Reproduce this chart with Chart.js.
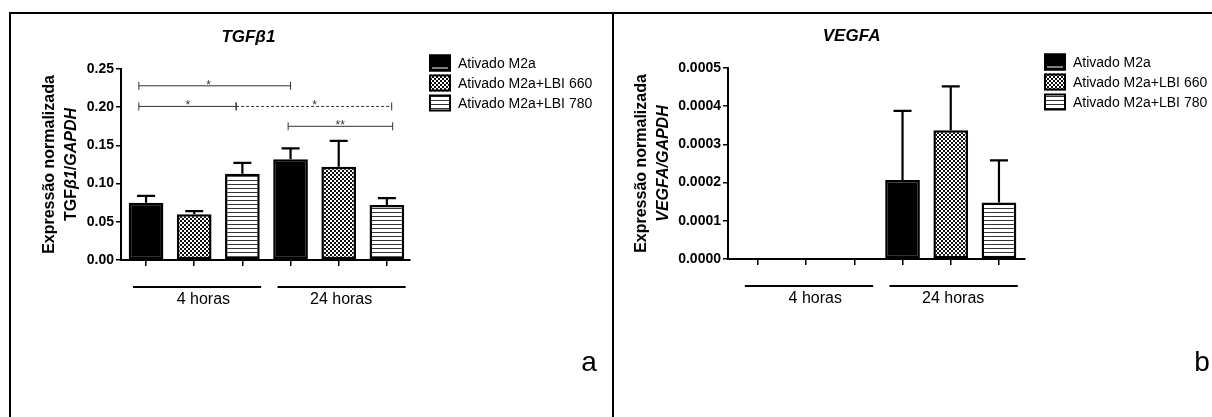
<!DOCTYPE html>
<html>
<head>
<meta charset="utf-8">
<script src="https://cdn.jsdelivr.net/npm/chart.js@4.4.1/dist/chart.umd.min.js"></script>
<style>
  body { margin: 0; background: #fff; }
  #wrap { position: relative; width: 1212px; height: 417px; overflow: hidden; }
  #wrap canvas { position: absolute; top: 0; }
  .rule { position: absolute; background: #000; }
</style>
</head>
<body>
<div id="wrap">
  <canvas id="tgf" width="612" height="417" style="left:0"></canvas>
  <canvas id="vegf" width="599" height="417" style="left:613px"></canvas>
  <div class="rule" style="left:9px;top:12px;width:1203px;height:2px"></div>
  <div class="rule" style="left:9px;top:12px;width:2px;height:405px"></div>
  <div class="rule" style="left:612px;top:12px;width:2px;height:405px"></div>
</div>
<script>
const groups = ['4 horas', '24 horas'];
const series = ['Ativado M2a', 'Ativado M2a+LBI 660', 'Ativado M2a+LBI 780'];

// TGFb1 normalised to GAPDH: mean and SEM, one value per group
const tgfM2a = [0.075, 0.132];
const tgfM2aSem = [0.009, 0.014];
const tgfLbi660 = [0.060, 0.122];
const tgfLbi660Sem = [0.004, 0.034];
const tgfLbi780 = [0.113, 0.072];
const tgfLbi780Sem = [0.014, 0.009];
const tgfTicks = [0, 0.05, 0.10, 0.15, 0.20, 0.25];

// VEGFA normalised to GAPDH (not detected at 4 h)
const vegfM2a = [0, 0.000207];
const vegfM2aSem = [0, 0.000181];
const vegfLbi660 = [0, 0.000337];
const vegfLbi660Sem = [0, 0.000115];
const vegfLbi780 = [0, 0.000148];
const vegfLbi780Sem = [0, 0.000110];
const vegfTicks = [0, 0.0001, 0.0002, 0.0003, 0.0004, 0.0005];

// significance brackets, x in bar slots (0..5)
const tgfSig = [
  { from: -0.15, to: 3, y: 0.228, label: '*', at: 1.3 },
  { from: -0.15, to: 1.87, y: 0.201, label: '*', at: 0.87 },
  { from: 1.87, to: 5.1, y: 0.201, label: '*', at: 3.5, dashed: true },
  { from: 2.95, to: 5.12, y: 0.175, label: '**', at: 4.03 }
];

const FONT = '"Liberation Sans", Arial, Helvetica, sans-serif';
const slots = [0, 1, 2, 3, 4, 5];

function makeChecker() {
  const c = document.createElement('canvas');
  c.width = 4; c.height = 4;
  const g = c.getContext('2d');
  g.fillStyle = '#fff';
  g.fillRect(0, 0, 4, 4);
  g.fillStyle = '#111';
  g.fillRect(0, 0, 2, 2);
  g.fillRect(2, 2, 2, 2);
  return g.createPattern(c, 'repeat');
}

function makeStripes() {
  const c = document.createElement('canvas');
  c.width = 4; c.height = 4;
  const g = c.getContext('2d');
  g.fillStyle = '#fff';
  g.fillRect(0, 0, 4, 4);
  g.fillStyle = '#333';
  g.fillRect(0, 0, 4, 1);
  return g.createPattern(c, 'repeat');
}

const fills = ['#000', makeChecker(), makeStripes()];

function makeDatasets(values, sems) {
  return series.map((name, s) => ({
    label: name,
    data: groups.map((g, gi) => ({ x: gi * 3 + s, y: values[s][gi] })),
    sem: sems[s],
    backgroundColor: fills[s],
    borderColor: '#000',
    borderWidth: 2.5,
    borderSkipped: false
  }));
}

function textSegments(ctx, segs, size) {
  let w = 0;
  segs.forEach(s => {
    ctx.font = (s.italic ? 'italic ' : '') + 'bold ' + size + 'px ' + FONT;
    w += ctx.measureText(s.t).width;
  });
  let x = -w / 2;
  segs.forEach(s => {
    ctx.font = (s.italic ? 'italic ' : '') + 'bold ' + size + 'px ' + FONT;
    ctx.fillText(s.t, x, 0);
    x += ctx.measureText(s.t).width;
  });
}

// title, axis title, legend, group labels, error bars and brackets
function decor(cfg) {
  return {
    id: 'decor',
    afterDatasetsDraw(chart) {
      const { ctx, scales: { y } } = chart;
      ctx.save();
      ctx.strokeStyle = '#000';
      ctx.lineWidth = 2.2;
      chart.data.datasets.forEach((ds, di) => {
        chart.getDatasetMeta(di).data.forEach((bar, i) => {
          const sem = ds.sem[i];
          if (!sem) return;
          const top = y.getPixelForValue(ds.data[i].y + sem);
          ctx.beginPath();
          ctx.moveTo(bar.x, bar.y);
          ctx.lineTo(bar.x, top);
          ctx.moveTo(bar.x - 9, top);
          ctx.lineTo(bar.x + 9, top);
          ctx.stroke();
        });
      });
      ctx.restore();
    },
    afterDraw(chart) {
      const { ctx, chartArea: area, scales: { x, y } } = chart;
      ctx.save();
      ctx.fillStyle = '#000';

      // left edge of the y tick labels
      ctx.font = 'bold 14px ' + FONT;
      const labW = Math.max(...y.ticks.map(t => ctx.measureText(t.label).width));
      const labLeft = area.left - 7 - labW;

      // chart title
      ctx.font = 'italic bold 17px ' + FONT;
      ctx.textAlign = 'center';
      ctx.textBaseline = 'middle';
      ctx.fillText(cfg.title, (labLeft + area.right) / 2, area.top - 32);

      // y axis title, two lines
      const midY = (area.top + area.bottom) / 2;
      ctx.save();
      ctx.translate(labLeft - 37, midY);
      ctx.rotate(-Math.PI / 2);
      ctx.font = 'bold 16px ' + FONT;
      ctx.fillText('Expressão normalizada', 0, 0);
      ctx.restore();
      ctx.save();
      ctx.translate(labLeft - 15, midY);
      ctx.rotate(-Math.PI / 2);
      ctx.textAlign = 'left';
      textSegments(ctx, cfg.yTitle, 16);
      ctx.restore();

      // legend
      chart.data.datasets.forEach((ds, i) => {
        const bx = area.right + 19;
        const cy = area.top - 6 + i * 20;
        const by = cy - 8.5;
        ctx.fillStyle = ds.backgroundColor;
        ctx.fillRect(bx, by, 22, 17);
        ctx.strokeStyle = '#000';
        ctx.lineWidth = 2;
        ctx.strokeRect(bx + 1, by + 1, 20, 15);
        if (i === 0) {
          ctx.strokeStyle = '#fff';
          ctx.lineWidth = 1;
          ctx.beginPath();
          ctx.moveTo(bx + 3, by + 13.5);
          ctx.lineTo(bx + 19, by + 13.5);
          ctx.stroke();
        }
        ctx.fillStyle = '#000';
        ctx.font = '14px ' + FONT;
        ctx.textAlign = 'left';
        ctx.fillText(ds.label, bx + 29, cy + 1);
      });

      // group lines and labels under the axis
      const labelAt = [1.19, 1.05];
      groups.forEach((g, gi) => {
        ctx.strokeStyle = '#000';
        ctx.lineWidth = 2;
        ctx.beginPath();
        ctx.moveTo(x.getPixelForValue(gi * 3 - 0.27), area.bottom + 27);
        ctx.lineTo(x.getPixelForValue(gi * 3 + 2.39), area.bottom + 27);
        ctx.stroke();
        ctx.font = '16px ' + FONT;
        ctx.textAlign = 'center';
        ctx.fillText(g, x.getPixelForValue(gi * 3 + labelAt[gi]), area.bottom + 40);
      });

      // significance brackets
      (cfg.sig || []).forEach(b => {
        const x1 = x.getPixelForValue(b.from);
        const x2 = x.getPixelForValue(b.to);
        const yy = y.getPixelForValue(b.y);
        ctx.strokeStyle = '#333';
        ctx.lineWidth = 1;
        ctx.setLineDash(b.dashed ? [3, 2] : []);
        ctx.beginPath();
        ctx.moveTo(x1, yy);
        ctx.lineTo(x2, yy);
        ctx.stroke();
        ctx.setLineDash([]);
        ctx.beginPath();
        ctx.moveTo(x1, yy - 4); ctx.lineTo(x1, yy + 4);
        ctx.moveTo(x2, yy - 4); ctx.lineTo(x2, yy + 4);
        ctx.stroke();
        ctx.fillStyle = '#333';
        ctx.font = '12px ' + FONT;
        ctx.textAlign = 'center';
        ctx.textBaseline = 'alphabetic';
        ctx.fillText(b.label, x.getPixelForValue(b.at), yy + 3);
      });

      // panel letter
      ctx.fillStyle = '#000';
      ctx.font = '28px ' + FONT;
      ctx.textAlign = 'center';
      ctx.textBaseline = 'alphabetic';
      ctx.fillText(cfg.panel, 589, 371);
      ctx.restore();
    }
  };
}

function makeChart(id, opts) {
  return new Chart(document.getElementById(id), {
    type: 'bar',
    data: { datasets: opts.datasets },
    options: {
      responsive: false,
      animation: false,
      grouped: false,
      layout: { padding: opts.padding },
      plugins: { legend: { display: false }, title: { display: false }, tooltip: { enabled: false } },
      scales: {
        x: {
          type: 'linear',
          offset: false,
          min: opts.xMin,
          max: opts.xMax,
          afterBuildTicks: s => { s.ticks = slots.map(v => ({ value: v })); },
          afterFit: s => { s.height = 40; },
          ticks: { display: false },
          grid: { offset: false, drawOnChartArea: false, drawTicks: true, tickLength: 6, color: '#000', lineWidth: 1.5 },
          border: { color: '#000', width: 2 }
        },
        y: {
          min: 0,
          max: opts.ticks[opts.ticks.length - 1],
          afterBuildTicks: s => { s.ticks = opts.ticks.map(v => ({ value: v })); },
          afterFit: s => { s.width = 60; },
          ticks: {
            callback: v => v.toFixed(opts.decimals),
            color: '#000',
            padding: 2,
            font: { family: FONT, size: 14, weight: 'bold' }
          },
          grid: { drawOnChartArea: false, tickLength: 5, color: '#000', lineWidth: 1.5 },
          border: { color: '#000', width: 2 }
        }
      }
    },
    plugins: [decor(opts.decor)]
  });
}

makeChart('tgf', {
  datasets: makeDatasets([tgfM2a, tgfLbi660, tgfLbi780], [tgfM2aSem, tgfLbi660Sem, tgfLbi780Sem]),
  ticks: tgfTicks,
  decimals: 2,
  xMin: -0.52,
  xMax: 5.48,
  padding: { left: 61, right: 202, top: 69, bottom: 117 },
  decor: {
    title: 'TGFβ1',
    yTitle: [{ t: 'TGF' }, { t: 'β1', italic: true }, { t: '/' }, { t: 'GAPDH', italic: true }],
    sig: tgfSig,
    panel: 'a'
  }
});

makeChart('vegf', {
  datasets: makeDatasets([vegfM2a, vegfLbi660, vegfLbi780], [vegfM2aSem, vegfLbi660Sem, vegfLbi780Sem]),
  ticks: vegfTicks,
  decimals: 4,
  xMin: -0.62,
  xMax: 5.54,
  padding: { left: 55, right: 187, top: 68, bottom: 118 },
  decor: {
    title: 'VEGFA',
    yTitle: [{ t: 'VEGFA/GAPDH', italic: true }],
    panel: 'b'
  }
});
</script>
</body>
</html>
